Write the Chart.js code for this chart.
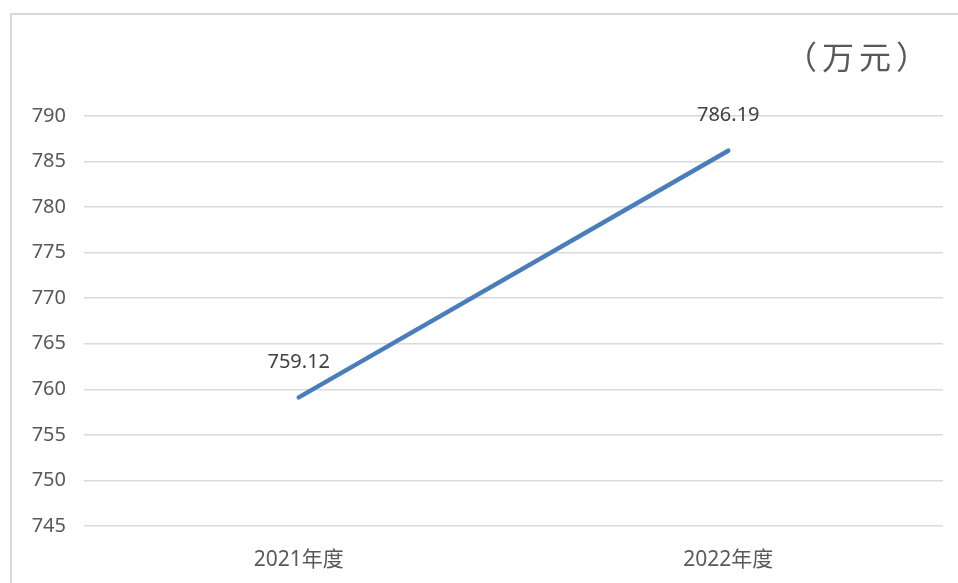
<!DOCTYPE html>
<html>
<head>
<meta charset="utf-8">
<script src="https://cdn.jsdelivr.net/npm/chart.js@4/dist/chart.umd.min.js"></script>
<style>
html,body{margin:0;padding:0;background:#fff;}
#wrap{width:958px;height:583px;position:relative;}
</style>
</head>
<body>
<div id="wrap"><canvas id="chart" width="958" height="583"></canvas></div>
<script>
// 年度收入（万元）
const years=["2021年度","2022年度"];
const amounts=[759.12,786.19];
const yMin=745, yMax=790, yStep=5;
const unitText="（万元）";

const FONT='"Noto Sans","Noto Sans CJK SC",sans-serif';
const GREY="#595959";

/* frame, unit text and value labels */
const extras={
id:"extras",
beforeDraw(chart){
const c=chart.ctx;
c.save();
c.strokeStyle="#d9d9d9";
c.lineWidth=2;
c.beginPath();
c.moveTo(11,600);
c.lineTo(11,14);
c.lineTo(970,14);
c.stroke();
c.restore();
},
afterDatasetsDraw(chart){
const c=chart.ctx;
c.save();
c.fillStyle=GREY;
c.font='32px '+FONT;
c.letterSpacing="5px";
c.textAlign="left";
c.textBaseline="middle";
c.fillText(unitText,785,60);
c.letterSpacing="0px";

c.fillStyle="#404040";
c.font='20px '+FONT;
c.textAlign="center";
const meta=chart.getDatasetMeta(0);
meta.data.forEach((pt,i)=>{
c.fillText(amounts[i].toFixed(2),pt.x,pt.y-35);
});
c.restore();
}
};

new Chart(document.getElementById("chart"),{
type:"line",
data:{
labels:years,
datasets:[{
data:amounts,
borderColor:"#4a7ebb",
borderWidth:4.5,
borderCapStyle:"round",
pointRadius:0,
tension:0
}]
},
options:{
responsive:false,
animation:false,
layout:{padding:{left:0,top:116,right:15,bottom:0}},
plugins:{legend:{display:false},tooltip:{enabled:false}},
scales:{
x:{
offset:true,
grid:{display:false},
border:{display:false},
ticks:{color:GREY,font:{size:21,family:FONT},padding:13},
afterFit(s){s.height=57;}
},
y:{
min:yMin,max:yMax,
grid:{color:"#d9d9d9",lineWidth:1.5,drawTicks:false},
border:{display:false},
ticks:{stepSize:yStep,color:GREY,font:{size:20,family:FONT},padding:18},
afterFit(s){s.width=84;}
}
}
},
plugins:[extras]
});
</script>
</body>
</html>
